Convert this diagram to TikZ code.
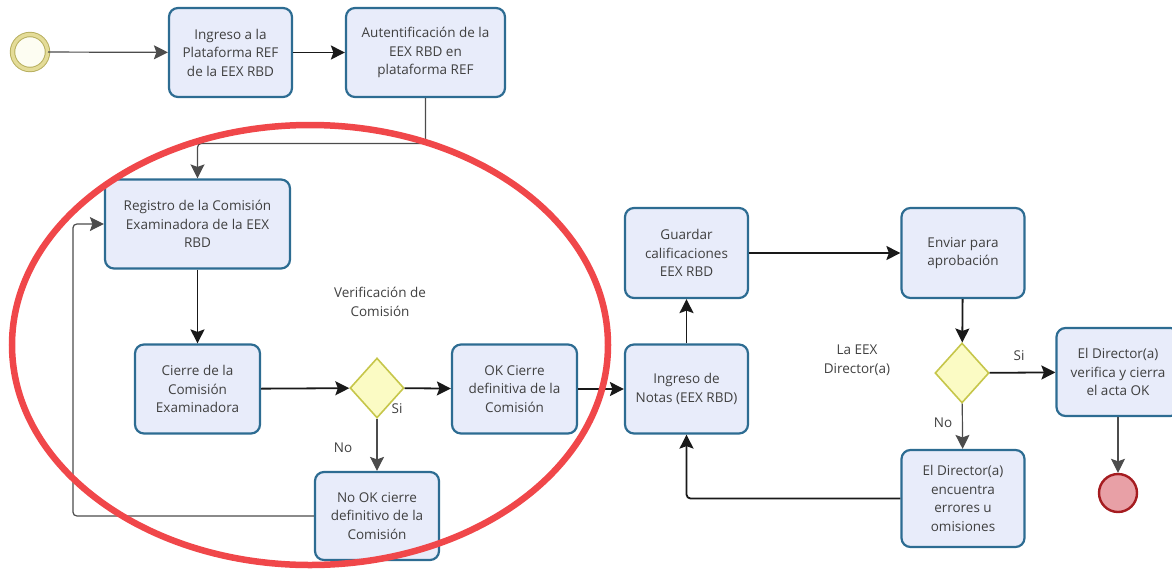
\documentclass[tikz,border=0pt]{standalone}
\usepackage{fontspec}
\setmainfont{Open Sans}
\usepackage{xcolor}
\usetikzlibrary{shapes.geometric, positioning, arrows.meta}
\definecolor{BoxFill}{HTML}{E8ECFA}
\definecolor{BoxLine}{HTML}{2D6C92}
\definecolor{GateFill}{HTML}{FBFBC4}
\definecolor{GateLine}{HTML}{C6C64A}
\definecolor{RingRed}{HTML}{F0474A}
\definecolor{TextGray}{HTML}{404040}
\definecolor{StartLine}{HTML}{B8B060}
\definecolor{StartRing}{HTML}{E4DC98}
\definecolor{StartFill}{HTML}{FDFDF2}
\definecolor{EndFill}{HTML}{E8A0A6}
\definecolor{EndLine}{HTML}{A51C20}

\begin{document}
\begin{tikzpicture}[x=1pt,y=-1pt,
    every node/.style={text=TextGray,font=\fontsize{13.5}{18.5}\selectfont,align=center},
    task/.style={draw=BoxLine,fill=BoxFill,line width=2.2pt,rounded corners=9pt,minimum width=123pt,minimum height=89pt,inner sep=2pt},
    gate/.style={diamond,draw=GateLine,fill=GateFill,line width=1.6pt,minimum width=54pt,minimum height=60pt,inner sep=0pt},
    flow/.style={draw=black!90,line width=1.8pt,-{Stealth[length=14pt,width=14pt,inset=2.5pt]}},
    thinflow/.style={flow,draw=black!70,line width=1.2pt},
    tag/.style={inner sep=1pt}]
  \useasboundingbox (0,0) rectangle (1172,568);
  \node[circle,minimum size=35pt,draw=StartLine,line width=1pt,double=StartRing,double distance=3.4pt,fill=StartFill] (S) at (30,52) {};
  \node[task] (A) at (230.5,52.5) {Ingreso a la\\Plataforma REF\\de la EEX RBD};
  \node[task,minimum width=159pt] (B) at (425.5,52.5) {Autentificación de la\\EEX RBD en\\plataforma REF};
  \node[task,minimum width=185pt] (C) at (197.5,224) {Registro de la Comisión\\Examinadora de la EEX\\RBD};
  \node[task,minimum width=125pt] (D) at (197.5,389) {Cierre de la\\Comisión\\Examinadora};
  \node[gate] (G1) at (377,388) {};
  \node[task,minimum width=125pt] (E) at (514.5,389) {OK Cierre\\definitiva de la\\Comisión};
  \node[task,minimum width=124pt,minimum height=88pt] (F) at (377,516) {No OK cierre\\definitivo de la\\Comisión};
  \node[task] (H) at (686.5,389) {Ingreso de\\Notas (EEX RBD)};
  \node[task,minimum height=90pt] (I) at (686.5,253) {Guardar\\calificaciones\\EEX RBD};
  \node[task,minimum height=90pt] (J) at (963,253) {Enviar para\\aprobación};
  \node[gate] (G2) at (962,373) {};
  \node[task,minimum height=88pt] (K) at (1118,372) {El Director(a)\\verifica y cierra\\el acta OK};
  \node[task,minimum height=97pt] (L) at (963,498.5) {El Director(a)\\encuentra\\errores u\\omisiones};
  \node[circle,minimum size=38pt,draw=EndLine,line width=2.4pt,fill=EndFill] (T) at (1118,493) {};
  \node[tag] (V) at (380,302) {Verificación de\\Comisión};
  \node[tag] (W) at (857,360) {La EEX\\Director(a)};
  \node[tag] (Y1) at (397,409) {Si};
  \node[tag] (N1) at (343,448) {No};
  \node[tag] (Y2) at (1019,356) {Si};
  \node[tag] (N2) at (943,423) {No};
  \draw[thinflow] (S) -- (A);
  \draw[flow] (A) -- (B);
  \draw[thinflow,rounded corners=4pt] (B.south) |- ([yshift=35pt]C.north) -- (C.north);
  \draw[flow] (C) -- (D);
  \draw[flow] (D) -- (G1);
  \draw[flow] (G1) -- (E);
  \draw[thinflow] (G1) -- (F);
  \draw[thinflow,rounded corners=4pt] (F.west) -| ([xshift=-31pt]C.west) -- (C.west);
  \draw[flow] (E) -- (H);
  \draw[flow] (H) -- (I);
  \draw[flow] (I) -- (J);
  \draw[flow] (J) -- (G2);
  \draw[flow] (G2) -- (K);
  \draw[thinflow] (G2) -- (L);
  \draw[flow,rounded corners=4pt] (L.west) -| (H.south);
  \draw[thinflow] (K) -- (T);
  \draw[RingRed,line width=6.5pt] (310,345) ellipse [x radius=298, y radius=220];
\end{tikzpicture}
\end{document}
